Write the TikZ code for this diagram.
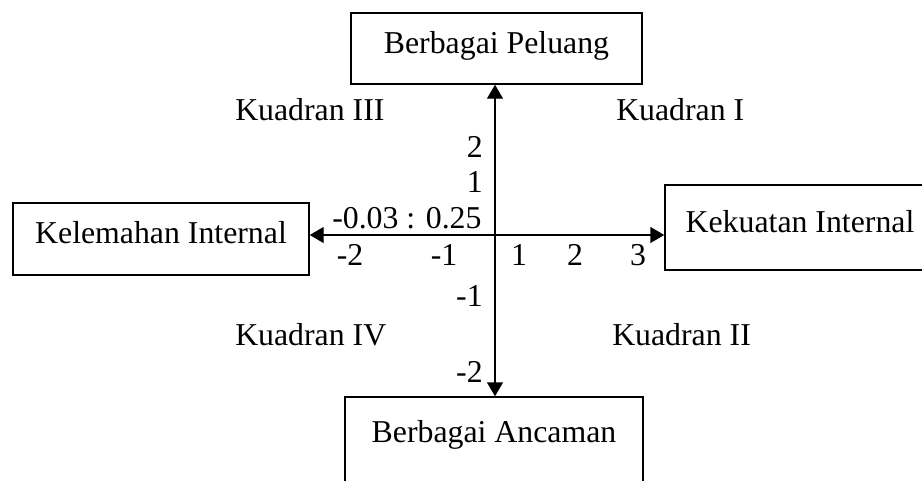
\documentclass[tikz,border=0pt]{standalone}
\usepackage{fontspec}
\setmainfont{Liberation Serif}
\usetikzlibrary{arrows.meta}
\begin{document}
\begin{tikzpicture}[x=0.75pt,y=-0.75pt,
  every node/.style={font=\fontsize{23.85}{28}\selectfont},
  box/.style={draw, line width=1.1pt, inner sep=0pt, anchor=base},
  lbl/.style={inner sep=0pt},
  axis/.style={line width=1.1pt, -{Triangle[length=10.5pt,width=12pt]}}]
\useasboundingbox (0,0) rectangle (922,480);
\clip (0,0) rectangle (922,480);

% the four boxes at the ends of the axes
\node[box, minimum width=218.25pt, text height=30pt, text depth=23.25pt]
  (peluang) at (496.5,53) {Berbagai Peluang};
\node[box, minimum width=223.5pt, text height=33.75pt, text depth=43.5pt]
  (ancaman) at (494,442) {Berbagai Ancaman};
\node[box, minimum width=222pt, text height=30pt, text depth=24pt]
  (lemah) at (161,243) {Kelemahan Internal};
\node[box, minimum width=202.5pt, text height=35.25pt, text depth=28.5pt]
  (kuat) at (800,232) {Kekuatan Internal};

% axes from the origin out to the boxes
\coordinate (o) at (495,235);
\draw[axis] (o) -- (o |- peluang.south);
\draw[axis] (o) -- (o |- ancaman.north);
\draw[axis] (o) -- (o -| lemah.east);
\draw[axis] (o) -- (o -| kuat.west);

% quadrant names
\node[lbl, anchor=base west] (q3) at (235,120) {Kuadran III};
\node[lbl, anchor=base west] (q1) at (616,120) {Kuadran I};
\node[lbl, anchor=base west] (q4) at (235,345) {Kuadran IV};
\node[lbl, anchor=base west] (q2) at (612,345) {Kuadran II};

% vertical scale
\node[lbl, anchor=base east] (y2) at (483,157) {2};
\node[lbl, anchor=base east] (y1) at (483,192) {1};
\node[lbl, anchor=base east] (ym1) at (483,306) {-1};
\node[lbl, anchor=base east] (ym2) at (483,382) {-2};

% horizontal scale
\node[lbl, anchor=base] (xm2) at (350,265) {-2};
\node[lbl, anchor=base] (xm1) at (444,265) {-1};
\node[lbl, anchor=base] (x1) at (519,265) {1};
\node[lbl, anchor=base] (x2) at (575,265) {2};
\node[lbl, anchor=base] (x3) at (638,265) {3};

% position point
\node[lbl, anchor=base west] (pos) at (332,228) {-0.03 : 0.25};
\end{tikzpicture}
\end{document}
